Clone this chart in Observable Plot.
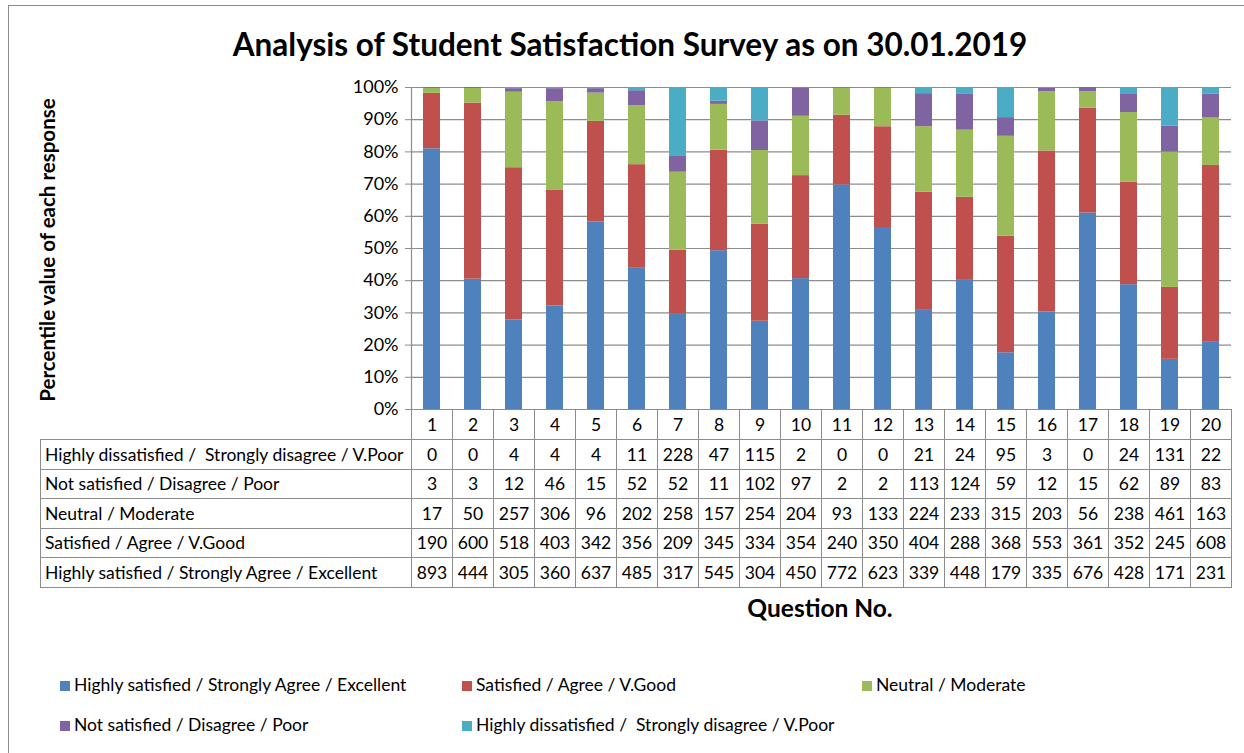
<!DOCTYPE html>
<html>
<head>
<meta charset="utf-8">
<script src="https://cdn.jsdelivr.net/npm/d3@7"></script>
<script src="https://cdn.jsdelivr.net/npm/@observablehq/plot@0.6"></script>
<style>
  html, body { margin: 0; padding: 0; background: #fff; }
  body { font-family: Lato, "Liberation Sans", sans-serif; color: #000; }
  #wrap { position: relative; width: 1244px; height: 753px; overflow: hidden; }
  #frame { position: absolute; left: 8px; top: 5px; width: 1300px; height: 800px; border-left: 1.5px solid #8c8c8c; border-top: 1.5px solid #8c8c8c; box-sizing: border-box; }
  #title { position: absolute; left: 0; top: 24px; width: 1260px; text-align: center; font-weight: bold; font-size: 31.5px; line-height: 40px; }
  #ylab { position: absolute; left: 47px; top: 250px; transform: translate(-50%, -50%) rotate(-90deg); white-space: nowrap; font-weight: bold; font-size: 20.5px; }
  #chart { position: absolute; left: 0; top: 70px; }
  #tbl { position: absolute; left: 40px; top: 409px; border-collapse: collapse; table-layout: fixed; font-size: 17.5px; }
  #tbl td { border: 1px solid #8c8c8c; padding: 0; text-align: center; white-space: nowrap; overflow: hidden; }
  #tbl td.lab { text-align: left; padding-left: 4px; white-space: pre; }
  #tbl tr.head td { height: 29px; }
  #tbl tr.head td.blank { border-top: none; border-left: none; }
  #tbl tr.row td { height: 28.5px; }
  #xlab { position: absolute; left: 820px; top: 607px; transform: translate(-50%, -50%); font-weight: bold; font-size: 24.5px; white-space: nowrap; }
  .leg { position: absolute; font-size: 17.5px; white-space: pre; line-height: 20px; }
  .leg span.sw { display: inline-block; width: 10px; height: 10px; margin-right: 4px; }
</style>
</head>
<body>
<div id="wrap">
  <div id="frame"></div>
  <div id="title">Analysis of Student Satisfaction Survey as on 30.01.2019</div>
  <div id="ylab">Percentile value of each response</div>
  <div id="chart"></div>
  <table id="tbl"></table>
  <div id="xlab">Question No.</div>
  <div id="legend"></div>
</div>
<script>
// ---- data ----
const questions = [1, 2, 3, 4, 5, 6, 7, 8, 9, 10, 11, 12, 13, 14, 15, 16, 17, 18, 19, 20];
const seriesNames = [
  "Highly satisfied / Strongly Agree / Excellent",
  "Satisfied / Agree / V.Good",
  "Neutral / Moderate",
  "Not satisfied / Disagree / Poor",
  "Highly dissatisfied /  Strongly disagree / V.Poor"
];
const highlySatisfied    = [893, 444, 305, 360, 637, 485, 317, 545, 304, 450, 772, 623, 339, 448, 179, 335, 676, 428, 171, 231];
const satisfied          = [190, 600, 518, 403, 342, 356, 209, 345, 334, 354, 240, 350, 404, 288, 368, 553, 361, 352, 245, 608];
const neutral            = [17, 50, 257, 306, 96, 202, 258, 157, 254, 204, 93, 133, 224, 233, 315, 203, 56, 238, 461, 163];
const notSatisfied       = [3, 3, 12, 46, 15, 52, 52, 11, 102, 97, 2, 2, 113, 124, 59, 12, 15, 62, 89, 83];
const highlyDissatisfied = [0, 0, 4, 4, 4, 11, 228, 47, 115, 2, 0, 0, 21, 24, 95, 3, 0, 24, 131, 22];
const seriesColors = ["#4F81BD", "#C0504D", "#9BBB59", "#8064A2", "#4BACC6"];
const yTicks = [0, 0.1, 0.2, 0.3, 0.4, 0.5, 0.6, 0.7, 0.8, 0.9, 1];
// table rows order (top to bottom)
const tableOrder = [4, 3, 2, 1, 0];

const seriesValues = [highlySatisfied, satisfied, neutral, notSatisfied, highlyDissatisfied];
const records = [];
questions.forEach((q, i) => {
  seriesNames.forEach((s, j) => records.push({ q, s, v: seriesValues[j][i] }));
});

const pct = d => Math.round(d * 100) + "%";
const plotWidth = 1232, mLeft = 411, mRight = 1;
const halfStep = (plotWidth - mLeft - mRight) / questions.length / 2;
const chart = Plot.plot({
  width: plotWidth,
  height: 352,
  marginLeft: mLeft,
  marginRight: mRight,
  marginTop: 17,
  marginBottom: 13,
  style: { fontFamily: "Lato, 'Liberation Sans', sans-serif", fontSize: "18px", color: "#000", background: "transparent", overflow: "visible" },
  x: { type: "band", domain: questions, paddingInner: 0.59, paddingOuter: 0.295, axis: null },
  y: { domain: [0, 1], axis: null },
  color: { domain: seriesNames, range: seriesColors },
  marks: [
    Plot.gridY(yTicks, { stroke: "#8c8c8c", strokeOpacity: 1, strokeWidth: 1.2 }),
    Plot.axisY(yTicks, { tickSize: 6, tickPadding: 7, tickFormat: pct, label: null, stroke: "#8c8c8c", fontSize: 18 }),
    Plot.barY(records, Plot.stackY({ offset: "normalize", order: seriesNames, x: "q", y: "v", fill: "s" })),
    Plot.ruleX([questions[0]], { x: d => d, dx: -halfStep, y1: 0, y2: 1, stroke: "#8c8c8c", strokeWidth: 1.2 })
  ]
});
document.getElementById("chart").appendChild(chart);

// ---- data table ----
const tbl = document.getElementById("tbl");
const cg = document.createElement("colgroup");
const c0 = document.createElement("col"); c0.style.width = "371px"; cg.appendChild(c0);
questions.forEach(() => { const c = document.createElement("col"); c.style.width = "41px"; cg.appendChild(c); });
tbl.appendChild(cg);
tbl.style.width = (371 + 41 * questions.length) + "px";
const head = document.createElement("tr"); head.className = "head";
const blank = document.createElement("td"); blank.className = "blank"; head.appendChild(blank);
questions.forEach(q => { const td = document.createElement("td"); td.textContent = q; head.appendChild(td); });
tbl.appendChild(head);
tableOrder.forEach(j => {
  const tr = document.createElement("tr"); tr.className = "row";
  const lab = document.createElement("td"); lab.className = "lab"; lab.textContent = seriesNames[j]; tr.appendChild(lab);
  seriesValues[j].forEach(v => { const td = document.createElement("td"); td.textContent = v; tr.appendChild(td); });
  tbl.appendChild(tr);
});

// ---- legend ----
const legend = document.getElementById("legend");
const legPos = [[60, 675], [462, 675], [862, 675], [60, 715], [462, 715]];
seriesNames.forEach((s, j) => {
  const d = document.createElement("div"); d.className = "leg";
  d.style.left = legPos[j][0] + "px"; d.style.top = legPos[j][1] + "px";
  const sw = document.createElement("span"); sw.className = "sw"; sw.style.background = seriesColors[j];
  d.appendChild(sw); d.appendChild(document.createTextNode(s));
  legend.appendChild(d);
});
</script>
</body>
</html>
